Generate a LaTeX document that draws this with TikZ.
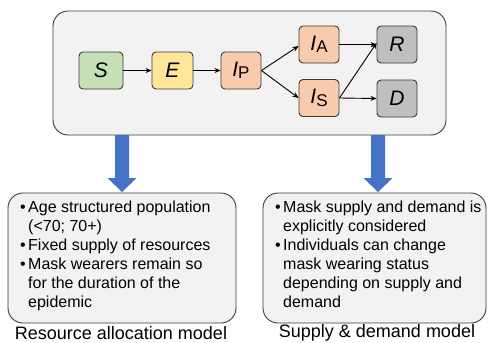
\documentclass[tikz,border=0pt]{standalone}
\usepackage{fontspec}
\setmainfont{Liberation Sans}
\usetikzlibrary{arrows.meta}
\definecolor{panel}{HTML}{F2F2F2}
\definecolor{edge}{HTML}{3A3A3A}
\definecolor{sgreen}{HTML}{C5E0B4}
\definecolor{eyellow}{HTML}{FFE699}
\definecolor{iorange}{HTML}{F8CBAD}
\definecolor{rgray}{HTML}{BFBFBF}
\definecolor{bluearrow}{HTML}{4472C4}
\newcommand{\cmp}[2]{{\fontsize{21}{21}\selectfont\itshape #1}\raisebox{-2.5pt}{\fontsize{17}{17}\selectfont #2}}
\newcommand{\bitem}{\makebox[8pt][l]{•}}
\begin{document}
\begin{tikzpicture}[x=1pt,y=-1pt,
  panelbox/.style={draw=edge,fill=panel,line width=0.9pt,rounded corners=15pt},
  comp/.style={draw=edge,line width=0.9pt,rounded corners=4pt,minimum height=37pt,inner sep=0pt},
  flow/.style={-{Stealth[length=6pt,width=5pt]},line width=0.9pt,black},
  bigarrow/.style={fill=bluearrow,draw=none}]
\useasboundingbox (0,0) rectangle (488,343);
% top panel
\draw[panelbox] (53,11) rectangle (446,135);
\node[comp,fill=sgreen,minimum width=44pt] (S) at (101,70.5) {{\fontsize{21}{21}\selectfont\itshape S}};
\node[comp,fill=eyellow,minimum width=41pt] (E) at (172.5,70.5) {{\fontsize{21}{21}\selectfont\itshape E}};
\node[comp,fill=iorange,minimum width=40pt] (IP) at (241,70.5) {\cmp{I}{P}};
\node[comp,fill=iorange,minimum width=40pt] (IA) at (319,44.5) {\cmp{I}{A}};
\node[comp,fill=iorange,minimum width=40pt] (IS) at (319,98) {\cmp{I}{S}};
\node[comp,fill=rgray,minimum width=40pt] (R) at (397,44.5) {{\fontsize{21}{21}\selectfont\itshape R}};
\node[comp,fill=rgray,minimum width=40pt] (D) at (397,98.5) {{\fontsize{21}{21}\selectfont\itshape D}};
\draw[flow] (S) -- (E);
\draw[flow] (E) -- (IP);
\draw[flow] (IP.east) -- ([yshift=-1.5pt]IA.west);
\draw[flow] (IP.east) -- (IS.west);
\draw[flow] (IA.east) -- (R.west);
\draw[flow] (IS.east) -- ([yshift=1.5pt]R.west);
\draw[flow] (IS.east) -- (D.west);
% blue arrows
\coordinate (la) at (122,192);
\coordinate (ra) at (378,192);
\fill[bigarrow] (115,135) -- (129,135) -- (129,178) -- (136.5,178) -- (la) -- (107.5,178) -- (115,178) -- cycle;
\fill[bigarrow] (371,135) -- (385,135) -- (385,178) -- (392.5,178) -- (ra) -- (363.5,178) -- (371,178) -- cycle;
% bottom boxes
\draw[panelbox] (8,193) rectangle (236,323);
\draw[panelbox] (263,193) rectangle (486,323);
\node[anchor=north west,inner sep=0pt,align=left] (lt) at (20,199) {\fontsize{16}{19}\selectfont
\begin{tabular}{@{}l@{}l@{}}
\bitem & Age structured population\\
 & (<70; 70+)\\
\bitem & Fixed supply of resources\\
\bitem & Mask wearers remain so\\
 & for the duration of the\\
 & epidemic
\end{tabular}};
\node[anchor=north west,inner sep=0pt,align=left] (rt) at (275,199) {\fontsize{16}{19}\selectfont
\begin{tabular}{@{}l@{}l@{}}
\bitem & Mask supply and demand is\\
 & explicitly considered\\
\bitem & Individuals can change\\
 & mask wearing status\\
 & depending on supply and\\
 & demand
\end{tabular}};
\node[font=\fontsize{18}{19}\selectfont,inner sep=0pt] (ll) at (121,333) {Resource allocation model};
\node[font=\fontsize{18}{19}\selectfont,inner sep=0pt] (rl) at (377,333) {Supply \& demand model};
\end{tikzpicture}
\end{document}
